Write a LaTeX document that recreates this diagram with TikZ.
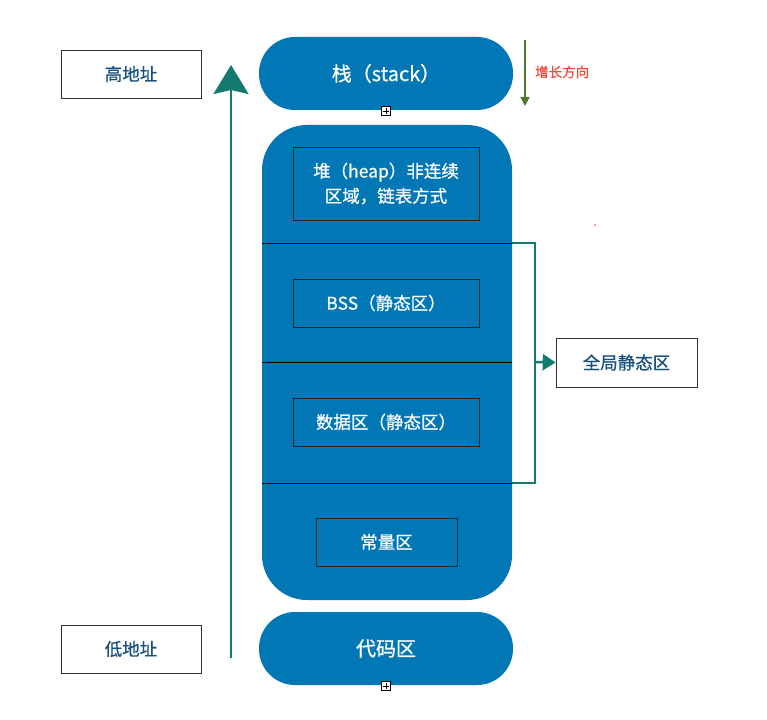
\documentclass[tikz,border=0pt]{standalone}
\usepackage{fontspec}
\setmainfont{Noto Sans CJK SC}[FakeBold=0.6]
\usepackage{xcolor}
\usetikzlibrary{shapes.geometric, arrows.meta, positioning, fit, calc}

\definecolor{memblue}{HTML}{0277B6}
\definecolor{teal}{HTML}{157A6E}
\definecolor{txtblue}{HTML}{174F7C}
\definecolor{growgreen}{HTML}{4A7A2A}
\definecolor{growred}{HTML}{F0473A}

\begin{document}
\begin{tikzpicture}[
    x=1pt,
    y=-1pt,
    pill/.style={rectangle, fill=memblue, minimum width=254pt,
                 minimum height=73pt, rounded corners=36pt, text=white,
                 font=\fontsize{20}{24}\selectfont},
    inbox/.style={rectangle, draw=black!85, line width=0.8pt,
                  minimum width=186pt, minimum height=48pt, align=center,
                  text=white, font=\fontsize{17.5}{25}\selectfont},
    addr/.style={rectangle, draw=black!80, line width=0.7pt,
                 minimum width=140pt, minimum height=48pt,
                 text=txtblue, font=\fontsize{17.5}{20}\selectfont},
    plusbox/.style={rectangle, draw, fill=white, minimum size=9pt,
                    inner sep=0pt, line width=0.7pt,
                    path picture={\draw[line width=0.6pt]
                      ([xshift=1.5pt]path picture bounding box.west) --
                      ([xshift=-1.5pt]path picture bounding box.east)
                      ([yshift=1.5pt]path picture bounding box.south) --
                      ([yshift=-1.5pt]path picture bounding box.north);}},
    divider/.style={black, line width=1pt},
    arrow/.style={-{Triangle[length=13pt, width=16pt]}, teal, line width=2.5pt},
]
\useasboundingbox (0,0) rectangle (767,719);

% address labels and the long arrow
\node[addr] (high) at (131,74)  {高地址};
\node[addr] (low)  at (131,649) {低地址};
\coordinate (up0) at (231,658);
\coordinate (up1) at (231,65);
\draw[teal, line width=2.5pt,
      -{Stealth[length=29pt, width=35pt, inset=4pt]}] (up0) -- (up1);

% stack
\node[pill] (stack) at (386,73.5) {栈（stack）};
\node[plusbox] (sp) at (386,111) {};
\coordinate (g0) at (525,40);
\coordinate (g1) at (525,106);
\draw[growgreen, line width=1.5pt, -{Triangle[length=9pt, width=9pt]}] (g0) -- (g1);
\node[text=growred, font=\fontsize{13.5}{16}\selectfont, anchor=west,
      inner sep=0pt] (grow) at (535,72) {增长方向};
\fill[growred!80] (595,225) circle (1pt);

% heap, bss, data, const
\node[rectangle, fill=memblue, minimum width=250pt, minimum height=475pt,
      rounded corners=45pt] (mem) at (387,362.5) {};
\node[inbox, minimum height=73pt] (heap) at (386,183.5)
    {堆（heap）非连续\\区域，链表方式};
\node[inbox] (bss)   at (386,303) {BSS（静态区）};
\node[inbox] (data)  at (386,422) {数据区（静态区）};
\node[inbox, minimum width=141pt] (const) at (386.5,542) {常量区};

\coordinate (d1l) at (262,243); \coordinate (d1r) at (512,243);
\coordinate (d2l) at (262,362); \coordinate (d2r) at (512,362);
\coordinate (d3l) at (262,483); \coordinate (d3r) at (512,483);
\draw[divider] (d1l) -- (d1r);
\draw[divider] (d2l) -- (d2r);
\draw[divider] (d3l) -- (d3r);

% global static bracket
\node[addr, minimum width=141pt, minimum height=49pt] (glob) at (626.5,362.5) {全局静态区};
\draw[teal, line width=2.5pt] (d1r) -- ++(23,0) coordinate (bt) |- (d3r);
\draw[arrow] (bt |- d2r) -- (glob.west);

% code
\node[pill] (code) at (386,648.5) {代码区};
\node[plusbox] (cp) at (386,686) {};
\end{tikzpicture}
\end{document}
